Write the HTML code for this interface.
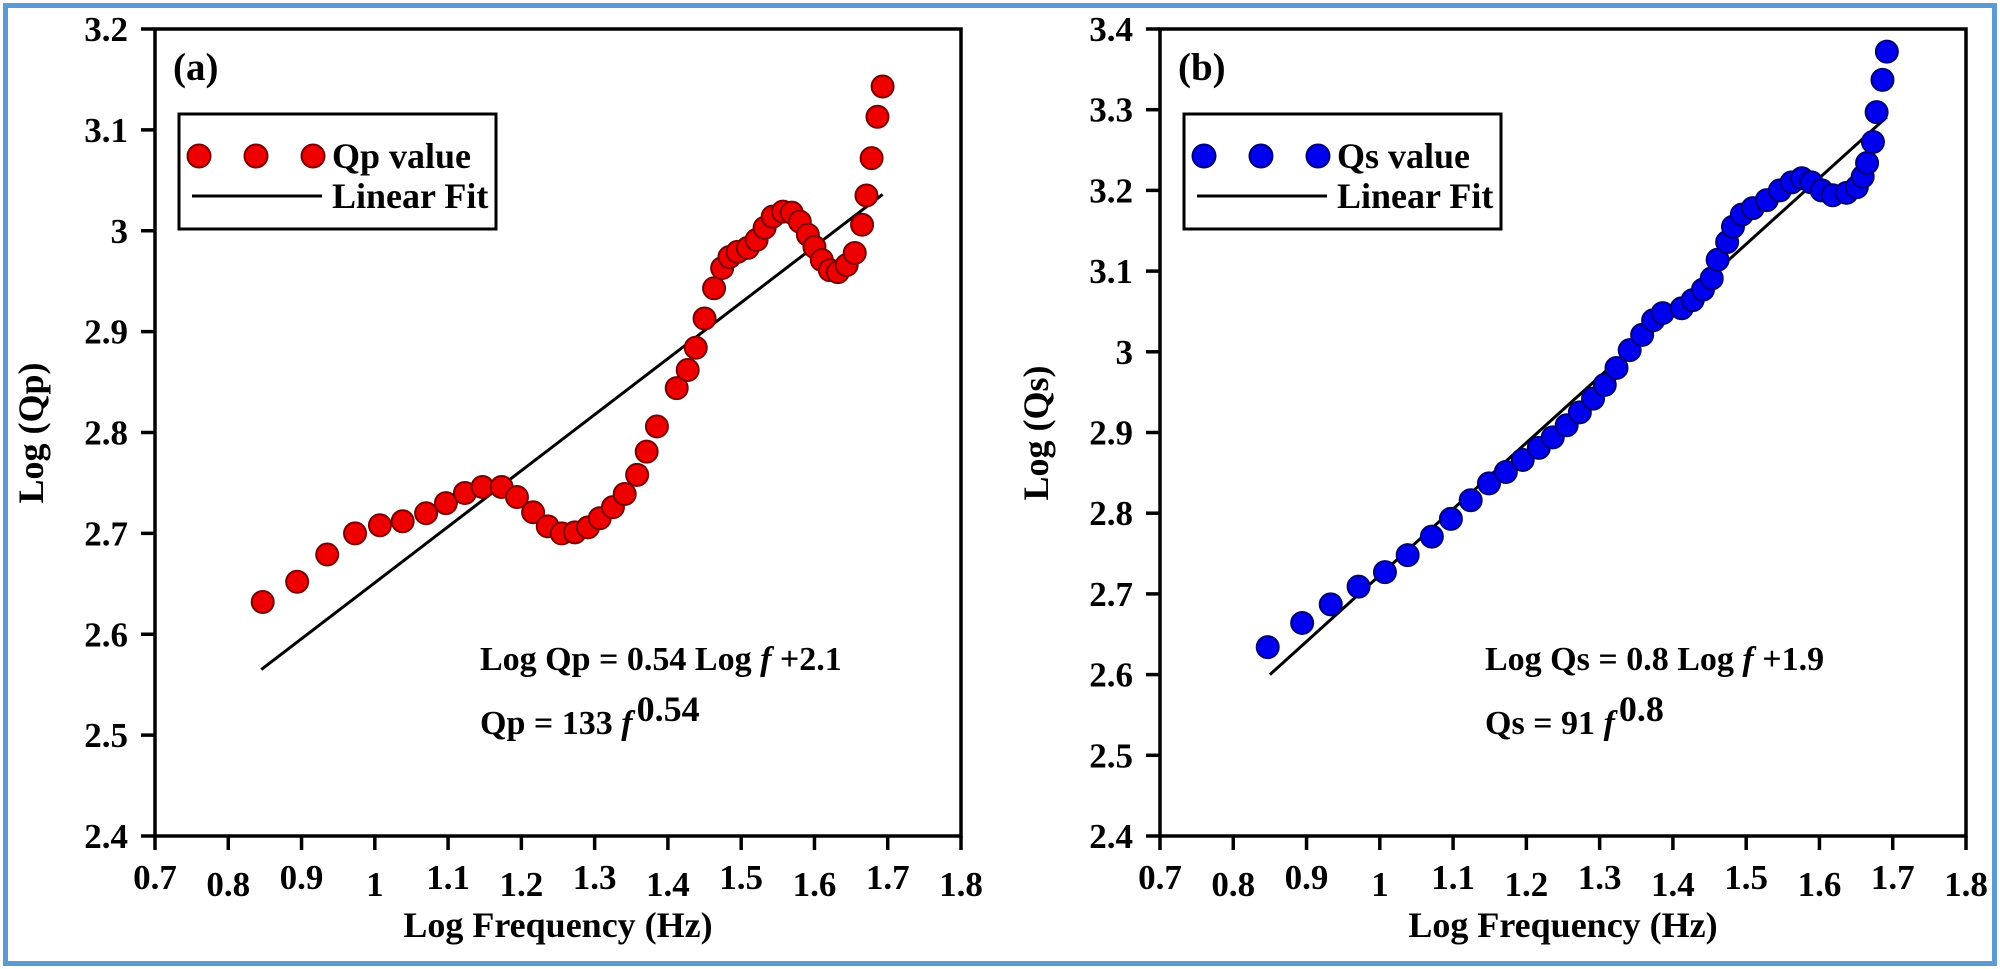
<!DOCTYPE html>
<html><head><meta charset="utf-8">
<style>
html,body{margin:0;padding:0;background:#fff;}
svg{display:block;font-family:"Liberation Serif",serif;font-weight:bold;}
</style></head>
<body>
<svg id="chart" width="2000" height="969" viewBox="0 0 2000 969" xmlns="http://www.w3.org/2000/svg">
<rect x="5.5" y="5.5" width="1989" height="958" fill="#fff" stroke="#5b9bd5" stroke-width="5"/>
<g id="panelA"></g>
<g id="panelB"></g>
</svg>
<script>
const xTicks = [0.7,0.8,0.9,1,1.1,1.2,1.3,1.4,1.5,1.6,1.7,1.8];
const xTickLabels = ["0.7","0.8","0.9","1","1.1","1.2","1.3","1.4","1.5","1.6","1.7","1.8"];
const yTicksA = [2.4,2.5,2.6,2.7,2.8,2.9,3,3.1,3.2];
const yTickLabelsA = ["2.4","2.5","2.6","2.7","2.8","2.9","3","3.1","3.2"];
const yTicksB = [2.4,2.5,2.6,2.7,2.8,2.9,3,3.1,3.2,3.3,3.4];
const yTickLabelsB = ["2.4","2.5","2.6","2.7","2.8","2.9","3","3.1","3.2","3.3","3.4"];

const qpX = [0.847,0.894,0.935,0.973,1.007,1.038,1.070,1.097,1.123,1.147,1.173,1.194,1.216,1.236,1.255,1.273,1.291,1.307,1.325,1.341,1.358,1.371,1.385,1.412,1.427,1.438,1.450,1.463,1.474,1.484,1.495,1.509,1.521,1.532,1.543,1.557,1.569,1.580,1.591,1.600,1.610,1.621,1.632,1.644,1.655,1.665,1.671,1.678,1.686,1.693];
const qpY = [2.632,2.652,2.679,2.700,2.708,2.712,2.720,2.730,2.740,2.746,2.746,2.736,2.721,2.707,2.700,2.701,2.706,2.715,2.726,2.739,2.758,2.781,2.806,2.844,2.862,2.884,2.913,2.943,2.963,2.974,2.979,2.983,2.991,3.003,3.014,3.019,3.018,3.009,2.996,2.984,2.971,2.961,2.959,2.966,2.978,3.006,3.035,3.072,3.113,3.143];
const fitAX = [0.845,1.693];
const fitAY = [2.565,3.036];

const qsX = [0.847,0.894,0.933,0.971,1.007,1.038,1.071,1.097,1.124,1.149,1.172,1.195,1.217,1.236,1.255,1.273,1.291,1.307,1.323,1.341,1.358,1.373,1.386,1.412,1.427,1.441,1.453,1.461,1.474,1.482,1.494,1.509,1.528,1.546,1.562,1.576,1.589,1.603,1.618,1.637,1.651,1.659,1.665,1.673,1.678,1.686,1.692];
const qsY = [2.634,2.664,2.687,2.709,2.727,2.748,2.771,2.793,2.816,2.837,2.851,2.866,2.881,2.894,2.909,2.925,2.942,2.959,2.980,3.002,3.021,3.039,3.048,3.054,3.064,3.077,3.091,3.114,3.136,3.155,3.170,3.178,3.188,3.200,3.210,3.215,3.210,3.200,3.194,3.197,3.204,3.217,3.234,3.260,3.297,3.337,3.372];
const fitBX = [0.850,1.692];
const fitBY = [2.600,3.291];

const NS = "http://www.w3.org/2000/svg";
function mk(parent, tag, attrs, text){
  const e = document.createElementNS(NS, tag);
  for (const k in attrs) e.setAttribute(k, attrs[k]);
  if (text !== undefined) e.textContent = text;
  parent.appendChild(e);
  return e;
}

function panel(g, cfg){
  const L = cfg.left, R = cfg.left + 806, T = 29, B = 836;
  const x = v => L + (v - 0.7) / 1.1 * (R - L);
  const y = v => B - (v - cfg.ymin) / (cfg.ymax - cfg.ymin) * (B - T);

  const frame = mk(g, "rect", {x:L, y:T, width:R-L, height:B-T, fill:"none", stroke:"#000", "stroke-width":3.5});
  
  

  xTicks.forEach((t, i) => {
    const tk = mk(g, "line", {x1:x(t), x2:x(t), y1:B, y2:B+14, stroke:"#000", "stroke-width":3.5});
    
    
    const lb = mk(g, "text", {x:x(t), y: i % 2 === 0 ? 889 : 896, "text-anchor":"middle", "font-size":35}, xTickLabels[i]);
    
    
  });
  cfg.yticks.forEach((t, i) => {
    const tk = mk(g, "line", {x1:L-14, x2:L, y1:y(t), y2:y(t), stroke:"#000", "stroke-width":3.5});
    
    
    const lb = mk(g, "text", {x:L-27, y:y(t)+12, "text-anchor":"end", "font-size":35}, cfg.ylabels[i]);
    
    
  });

  const xt = mk(g, "text", {x:(L+R)/2, y:937, "text-anchor":"middle", "font-size":36}, "Log Frequency (Hz)");
  
  
  const yt = mk(g, "text", {x:0, y:0, "text-anchor":"middle", "font-size":36, transform:`translate(${L-112},433) rotate(-90)`}, cfg.ytitle);
  
  

  const pl = mk(g, "text", {x:L+18, y:80, "font-size":39}, cfg.panel);
  
  

  const fl = mk(g, "line", {x1:x(cfg.fitX[0]), y1:y(cfg.fitY[0]), x2:x(cfg.fitX[1]), y2:y(cfg.fitY[1]), stroke:"#000", "stroke-width":3});
  
  

  cfg.xs.forEach((v, i) => {
    const c = mk(g, "circle", {cx:x(v), cy:y(cfg.ys[i]), r:11, fill:cfg.fill, stroke:cfg.stroke, "stroke-width":2});
    
    
  });

  const lg = mk(g, "g", {});
  
  
  mk(lg, "rect", {x:L+24, y:114, width:317, height:115, fill:"#fff", stroke:"#000", "stroke-width":3});
  [L+44, L+101, L+158].forEach(cx => {
    const m = mk(lg, "circle", {cx:cx, cy:156, r:11.5, fill:cfg.fill, stroke:cfg.stroke, "stroke-width":2});
    
    
  });
  const l1 = mk(lg, "text", {x:L+177, y:168, "font-size":36}, cfg.series);
  
  
  mk(lg, "line", {x1:L+37, x2:L+167, y1:196, y2:196, stroke:"#000", "stroke-width":3});
  const l2 = mk(lg, "text", {x:L+177, y:208, "font-size":36}, "Linear Fit");
  
  

  const e1 = mk(g, "text", {x:L+325, y:670, "font-size":34});
  
  
  mk(e1, "tspan", {}, cfg.eq1a);
  mk(e1, "tspan", {"font-style":"italic"}, "f");
  mk(e1, "tspan", {}, cfg.eq1b);
  const e2 = mk(g, "text", {x:L+325, y:734, "font-size":34});
  
  
  mk(e2, "tspan", {}, cfg.eq2a);
  mk(e2, "tspan", {"font-style":"italic"}, "f");
  mk(e2, "tspan", {dy:-13, dx:4, "font-size":36}, cfg.eq2exp);
}

panel(document.getElementById("panelA"), {
  left:155, ymin:2.4, ymax:3.2, yticks:yTicksA, ylabels:yTickLabelsA,
  ytitle:"Log (Qp)", panel:"(a)", series:"Qp value",
  xs:qpX, ys:qpY, fitX:fitAX, fitY:fitAY, fill:"#ee0000", stroke:"#7a0000",
  eq1a:"Log Qp = 0.54 Log ", eq1b:" +2.1", eq2a:"Qp = 133 ", eq2exp:"0.54"
});
panel(document.getElementById("panelB"), {
  left:1160, ymin:2.4, ymax:3.4, yticks:yTicksB, ylabels:yTickLabelsB,
  ytitle:"Log (Qs)", panel:"(b)", series:"Qs value",
  xs:qsX, ys:qsY, fitX:fitBX, fitY:fitBY, fill:"#0000ee", stroke:"#00007a",
  eq1a:"Log Qs = 0.8 Log ", eq1b:" +1.9", eq2a:"Qs = 91 ", eq2exp:"0.8"
});
</script>
</body></html>
